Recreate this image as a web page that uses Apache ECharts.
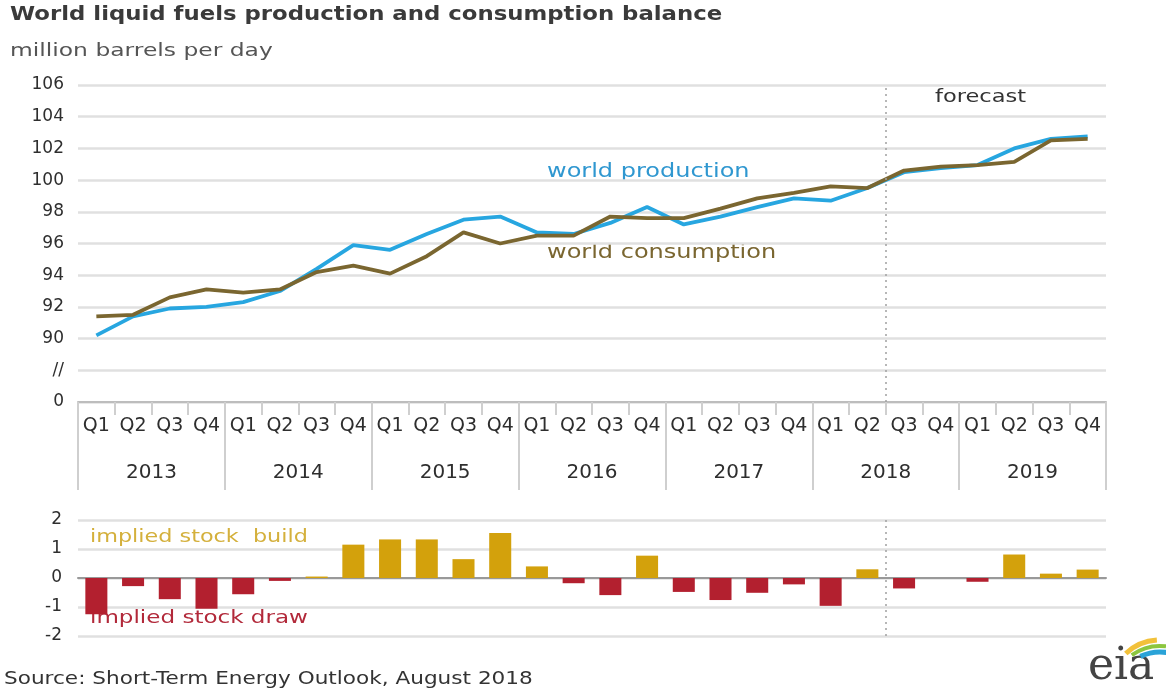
<!DOCTYPE html>
<html>
<head>
<meta charset="utf-8">
<script src="https://cdn.jsdelivr.net/npm/echarts@6/dist/echarts.min.js"></script>
<style>html,body{margin:0;padding:0;background:#fff}#c{width:1166px;height:695px}</style>
</head>
<body>
<div id="c"></div>
<script>
const quarters = ['Q1','Q2','Q3','Q4','Q1','Q2','Q3','Q4','Q1','Q2','Q3','Q4','Q1','Q2','Q3','Q4','Q1','Q2','Q3','Q4','Q1','Q2','Q3','Q4','Q1','Q2','Q3','Q4'];
const years = ['2013','2014','2015','2016','2017','2018','2019'];
const production = [90.2,91.4,91.9,92.0,92.3,93.0,94.4,95.9,95.6,96.6,97.5,97.7,96.7,96.6,97.3,98.3,97.2,97.7,98.3,98.85,98.7,99.5,100.5,100.75,100.95,102.0,102.6,102.75];
const consumption = [91.4,91.5,92.6,93.1,92.9,93.1,94.2,94.6,94.1,95.2,96.7,96.0,96.5,96.5,97.7,97.6,97.6,98.2,98.85,99.2,99.6,99.5,100.6,100.85,100.95,101.15,102.5,102.6];
const stockChange = [-1.25,-0.28,-0.73,-1.06,-0.56,-0.1,0.05,1.15,1.33,1.33,0.65,1.55,0.4,-0.18,-0.59,0.77,-0.48,-0.76,-0.51,-0.22,-0.96,0.3,-0.36,0,-0.13,0.81,0.15,0.29];
const topTickText = {86:'0', 88:'//'};
const forecastBoundary = 22; // quarters elapsed before the forecast starts (Q3 2018)

const FONT = 'DejaVu Sans';
const chart = echarts.init(document.getElementById('c'));
const gridColor = '#e0e0e0';
const tickColor = '#cfcfcf';
const dashed = {color:'#a0a0a0', type:[2,4], width:1.5};
function txt(x, y, text, size, color, sx, bold) {
  return {type:'text', x:x, y:y, scaleX:sx, scaleY:1,
    style:{text:text, font:(bold?'bold ':'') + size + 'px "DejaVu Sans"', fill:color, verticalAlign:'top', align:'left'}};
}
chart.setOption({
  animation: false,
  textStyle: {fontFamily: FONT},
  grid: [
    {left: 78, right: 60, top: 85, height: 317},
    {left: 78, right: 60, top: 520, height: 116}
  ],
  xAxis: [
    {type:'category', gridIndex:0, data: quarters, boundaryGap:true,
      axisLine:{show:true, lineStyle:{color:'#bdbdbd', width:2}},
      axisTick:{show:true, length:13, interval:0, lineStyle:{color:tickColor, width:2}},
      axisLabel:{interval:0, margin:15, fontSize:19, color:'#2e2e2e', fontFamily:FONT}},
    {type:'category', gridIndex:0, data: years, position:'bottom', boundaryGap:true,
      axisLine:{show:false},
      axisTick:{show:true, length:88, interval:0, lineStyle:{color:tickColor, width:2}},
      axisLabel:{interval:0, margin:61, fontSize:20, color:'#2e2e2e', fontFamily:FONT}},
    {type:'category', gridIndex:1, data: quarters, boundaryGap:true,
      axisLine:{show:true, onZero:true, lineStyle:{color:'#999', width:2}},
      axisTick:{show:false}, axisLabel:{show:false}},
    {type:'value', gridIndex:0, min:0, max:quarters.length, show:false},
    {type:'value', gridIndex:1, min:0, max:quarters.length, show:false}
  ],
  yAxis: [
    {type:'value', gridIndex:0, min:86, max:106, interval:2,
      axisLine:{show:false}, axisTick:{show:false},
      splitLine:{lineStyle:{color:gridColor, width:2.5}},
      axisLabel:{margin:14, fontSize:17, color:'#2e2e2e', fontFamily:FONT,
        formatter: v => (topTickText[v] !== undefined ? topTickText[v] : String(v))}},
    {type:'value', gridIndex:1, min:-2, max:2, interval:1,
      axisLine:{show:false}, axisTick:{show:false},
      splitLine:{lineStyle:{color:gridColor, width:2.5}},
      axisLabel:{margin:16, fontSize:17, color:'#2e2e2e', fontFamily:FONT}}
  ],
  series: [
    {type:'line', name:'world production', xAxisIndex:0, yAxisIndex:0, data: production,
      symbol:'none', lineStyle:{color:'#27a6e0', width:3.8}, z:3},
    {type:'line', name:'world consumption', xAxisIndex:0, yAxisIndex:0, data: consumption,
      symbol:'none', lineStyle:{color:'#7a6630', width:3.8}, z:4},
    {type:'bar', name:'implied stock change', xAxisIndex:2, yAxisIndex:1, data: stockChange,
      barWidth:'60%',
      itemStyle:{color: p => (p.value >= 0 ? '#d3a10c' : '#b3202f')}},
    {type:'line', xAxisIndex:3, yAxisIndex:0, data:[], silent:true,
      markLine:{silent:true, symbol:'none', label:{show:false}, lineStyle:dashed, data:[{xAxis: forecastBoundary}]}},
    {type:'line', xAxisIndex:4, yAxisIndex:1, data:[], silent:true,
      markLine:{silent:true, symbol:'none', label:{show:false}, lineStyle:dashed, data:[{xAxis: forecastBoundary}]}}
  ],
  graphic: [
    txt(10, 6, 'World liquid fuels production and consumption balance', 19, '#3a3a3a', 1.2, true),
    txt(10, 42, 'million barrels per day', 18, '#555', 1.3, false),
    txt(547, 162, 'world production', 20, '#2f97d0', 1.2, false),
    txt(547, 243, 'world consumption', 20, '#7a6630', 1.2, false),
    txt(935, 88, 'forecast', 18, '#333', 1.25, false),
    txt(90, 528, 'implied stock  build', 18, '#d4b03c', 1.24, false),
    txt(90, 609, 'implied stock draw', 18, '#b2293a', 1.28, false),
    txt(4, 671, 'Source: Short-Term Energy Outlook, August 2018', 17, '#333', 1.27, false),
    {type:'text', x:1088, y:646, style:{text:'eia', font:'44px "DejaVu Serif"', fill:'#444', verticalAlign:'top'}},
    {type:'arc', shape:{cx:1160, cy:690, r:50, startAngle:-Math.PI*0.74, endAngle:-Math.PI*0.52}, style:{stroke:'#f2c13a', lineWidth:5, fill:null}},
    {type:'arc', shape:{cx:1160, cy:694, r:48, startAngle:-Math.PI*0.70, endAngle:-Math.PI*0.46}, style:{stroke:'#8cc63f', lineWidth:4, fill:null}},
    {type:'arc', shape:{cx:1160, cy:698, r:46, startAngle:-Math.PI*0.64, endAngle:-Math.PI*0.2}, style:{stroke:'#2aa3d8', lineWidth:5, fill:null}}
  ]
});
</script>
</body>
</html>
